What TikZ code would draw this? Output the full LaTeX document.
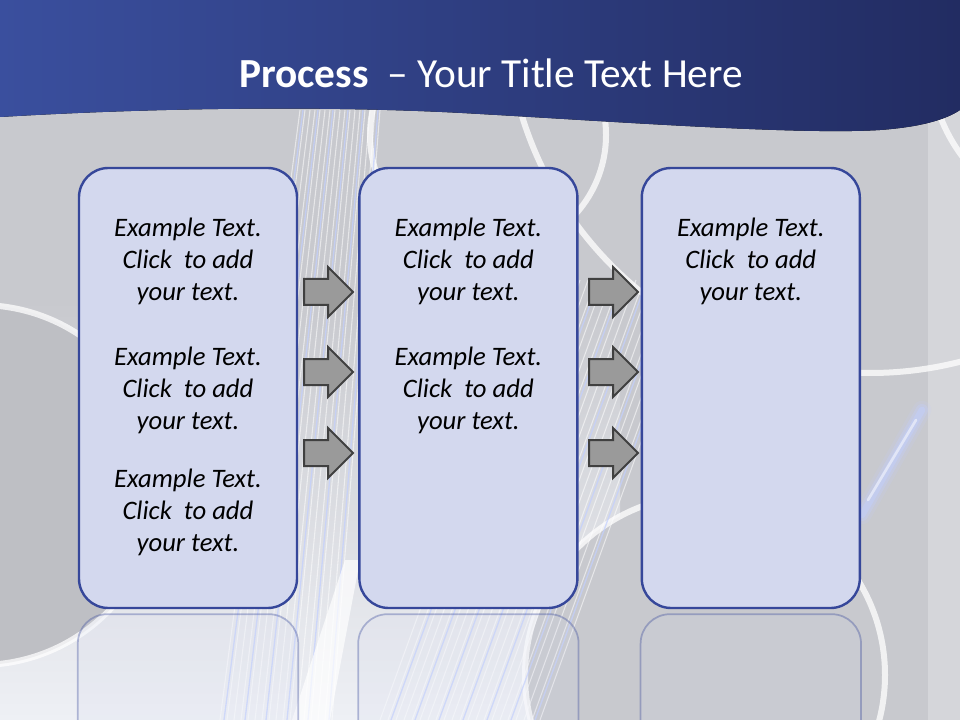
\documentclass[tikz,border=0pt]{standalone}
\usepackage{fontspec}
\setmainfont{Carlito}
\usetikzlibrary{positioning,shapes.arrows,calc}
\definecolor{SlideGray}{HTML}{C8C9CE}
\definecolor{HeadBlue}{HTML}{3A4F9E}
\definecolor{HeadNavy}{HTML}{222C62}
\definecolor{BoxFill}{HTML}{D3D8EE}
\definecolor{BoxEdge}{HTML}{36479A}
\definecolor{ArrowGray}{HTML}{9A9A9A}
\definecolor{ArrowEdge}{HTML}{404040}
\definecolor{StreakBlue}{HTML}{C2CFFF}
\definecolor{PaleGray}{HTML}{EEF0F5}

\begin{document}
\begin{tikzpicture}[
  x=0.75pt, y=-0.75pt,
  node distance=45pt,
  every node/.style={align=center},
  stepbox/.style={draw=BoxEdge,fill=BoxFill,line width=1.8pt,rounded corners=22pt,minimum width=163.5pt,minimum height=330pt,inner sep=0pt},
  mirror/.style={draw=BoxEdge,draw opacity=0.35,fill=BoxFill,fill opacity=0.15,line width=1.3pt,rounded corners=22pt},
  blockarrow/.style={single arrow,draw=ArrowEdge,fill=ArrowGray,line width=1.5pt,minimum height=36.75pt,single arrow head extend=9pt,inner sep=0pt,text width=0pt,text height=9pt,text depth=9pt,anchor=tail},
  note/.style={font=\fontsize{20}{24}\selectfont\itshape,text=black},
  ring/.style={draw=white,draw opacity=0.75,line width=4.5pt},
  streak/.style={draw=white,opacity=0.55,line width=0.8pt}
]
\useasboundingbox (0,0) rectangle (960,720);

% background
\fill[SlideGray] (0,0) rectangle (960,720);
\fill[white,opacity=0.25] (928,0) rectangle (960,720);
\shade[top color=SlideGray,bottom color=PaleGray] (0,300) rectangle (620,720);
\fill[SlideGray!95!black] (-20,485) circle (180);
\draw[ring] (-20,485) circle (180);
\draw[ring] (488,135) circle (118);
\draw[ring] (870,9) circle (364);
\draw[ring] (1090,60) circle (160);
\foreach \i in {0,...,16}
  \draw[streak] (220+7*\i,720) -- (300+5*\i,110);
\foreach \i in {0,3,...,15}
  \draw[StreakBlue,opacity=0.7,line width=1pt] (224+7*\i,720) -- (303+5*\i,110);
\fill[white,opacity=0.7] (292,720) -- (330,720) -- (360,560) -- (345,560) -- cycle;
\fill[SlideGray] (705,675) circle (180);
\draw[ring] (705,675) circle (180);
\foreach \i in {0,...,20}
  \draw[streak] (380+8*\i,720) -- (540+8*\i,280);
\foreach \i in {1,4,...,19}
  \draw[StreakBlue,opacity=0.7,line width=1pt] (383+8*\i,720) -- (543+8*\i,280);
\foreach \w/\o in {14/0.15,9/0.3,5/0.45}
  \draw[StreakBlue,opacity=\o,line width=\w pt,line cap=round] (862,515) -- (922,410);
\draw[white,opacity=0.5,line width=2pt,line cap=round] (868,500) -- (916,420);

% header band
\fill[left color=HeadBlue,right color=HeadNavy]
  (0,0) -- (960,0) -- (960,110)
  .. controls (945,120) and (920,127) .. (880,130)
  .. controls (800,135) and (620,122) .. (480,114)
  .. controls (330,105) and (150,108) .. (0,117) -- cycle;
\node[font=\fontsize{31}{37}\selectfont,text=white,anchor=base] (title) at (491,88)
  {\textbf{Process}~ – Your Title Text Here};

% steps
\node[stepbox] (box1) at (188,388) {};
\node[stepbox,right=of box1] (box2) {};
\node[stepbox,right=46.5pt of box2] (box3) {};

% reflections
\begin{scope}
  \clip (0,0) rectangle (960,720);
  \foreach \b in {box1,box2,box3}
    \draw[mirror] ($(\b.south west)+(0,5)$) rectangle ($(\b.south east)+(0,445)$);
\end{scope}

% arrows
\foreach \y [count=\k] in {292,372,453} {
  \node[blockarrow] (left\k) at (303,\y) {};
  \node[blockarrow] (right\k) at (588,\y) {};
}

% texts
\node[note] (txt11) at ($(box1.north)+(0,95)$) {Example Text.\\Click\ \ to add\\your text.};
\node[note] (txt12) at ($(box1.north)+(0,224)$) {Example Text.\\Click\ \ to add\\your text.};
\node[note] (txt13) at ($(box1.north)+(0,346)$) {Example Text.\\Click\ \ to add\\your text.};
\node[note] (txt21) at ($(box2.north)+(0,95)$) {Example Text.\\Click\ \ to add\\your text.};
\node[note] (txt22) at ($(box2.north)+(0,224)$) {Example Text.\\Click\ \ to add\\your text.};
\node[note] (txt31) at ($(box3.north)+(0,95)$) {Example Text.\\Click\ \ to add\\your text.};
\end{tikzpicture}
\end{document}
